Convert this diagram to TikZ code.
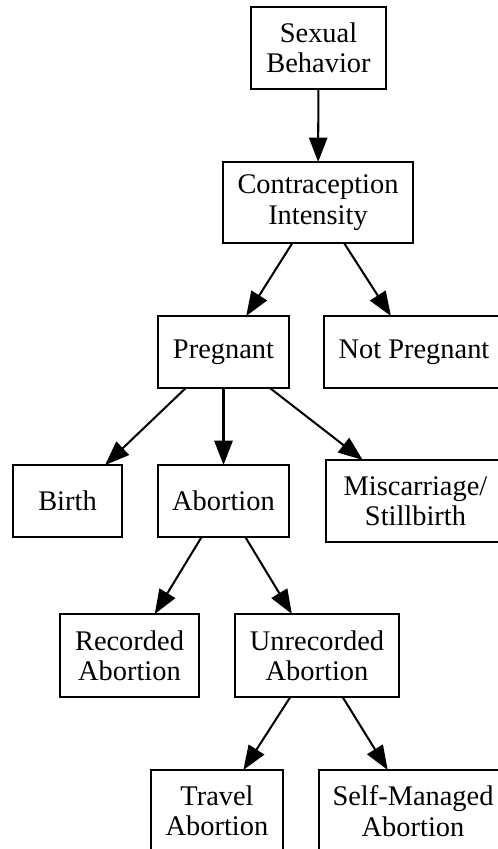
\documentclass[tikz,border=0pt]{standalone}
\usepackage{fontspec}
\setmainfont{Liberation Serif}
\usetikzlibrary{arrows.meta}
\begin{document}
\begin{tikzpicture}[x=0.4926pt, y=-0.4926pt,
  nbox/.style 2 args={draw, line width=1pt, inner sep=0pt, outer sep=0pt,
    align=center, font=\fontsize{14}{15}\selectfont,
    minimum width=#1*0.4926pt, minimum height=#2*0.4926pt},
  edge/.style={line width=1pt, -{Triangle[length=12pt, width=9pt]}}]
\useasboundingbox (0,0) rectangle (497,849);
\node[nbox={135}{82}] (sb) at (318.5,48) {Sexual\\Behavior};
\node[nbox={190}{81}] (ci) at (318,202.5) {Contraception\\Intensity};
\node[nbox={131}{72}] (pr) at (223.5,352) {Pregnant};
\node[nbox={180}{72}] (np) at (414,352) {Not Pregnant};
\node[nbox={109}{72}] (bi) at (67.5,501) {Birth};
\node[nbox={131}{72}] (ab) at (223.5,501) {Abortion};
\node[nbox={179}{82}] (mi) at (415.5,501) {Miscarriage/\\Stillbirth};
\node[nbox={139}{83}] (ra) at (129.5,655.5) {Recorded\\Abortion};
\node[nbox={164}{83}] (ua) at (317,655.5) {Unrecorded\\Abortion};
\node[nbox={132}{82}] (ta) at (217,811) {Travel\\Abortion};
\node[nbox={188}{82}] (sm) at (413,811) {Self-Managed\\Abortion};
\draw[edge] (sb) -- (ci);
\draw[edge] (ci) -- (pr);
\draw[edge] (ci) -- (np);
\draw[edge] (pr) -- (bi);
\draw[edge] (pr) -- (ab);
\draw[edge] (pr) -- (mi);
\draw[edge] (ab) -- (ra);
\draw[edge] (ab) -- (ua);
\draw[edge] (ua) -- (ta);
\draw[edge] (ua) -- (sm);
\end{tikzpicture}
\end{document}
